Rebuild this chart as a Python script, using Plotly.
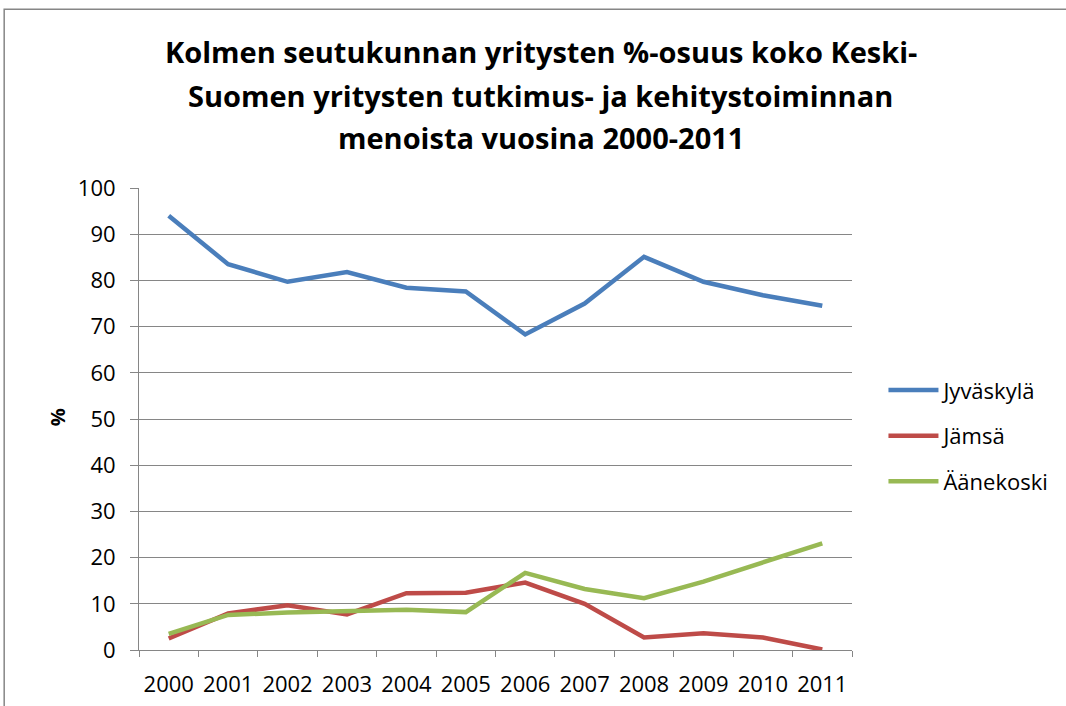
# coding: utf-8

# https://plotly.com/python
import plotly.graph_objects as go

# Data
years = ['2000', '2001', '2002', '2003', '2004', '2005',
         '2006', '2007', '2008', '2009', '2010', '2011']
jyvaskyla = [94.0, 83.5, 79.7, 81.8, 78.4, 77.6, 68.3, 75.0, 85.1, 79.7, 76.8, 74.5]
jamsa = [2.5, 7.9, 9.7, 7.7, 12.3, 12.4, 14.6, 10.0, 2.7, 3.6, 2.7, 0.1]
aanekoski = [3.5, 7.6, 8.1, 8.5, 8.7, 8.2, 16.7, 13.2, 11.2, 14.8, 19.0, 23.1]

series_names = ['Jyväskylä', 'Jämsä', 'Äänekoski']
series_colors = ['#4A7EBB', '#BE4B48', '#98B954']

title_lines = ['Kolmen seutukunnan yritysten %-osuus koko Keski-',
               'Suomen yritysten tutkimus- ja kehitystoiminnan',
               'menoista vuosina 2000-2011']

font_family = 'Open Sans, Liberation Sans, sans-serif'
grid_color = '#868686'

# Page size
W, H = 1066, 706

# Plot area in page pixels
left, right, top, bottom = 138.5, 852.5, 188, 650.5


def px_to_paper_x(px):
    return (px - left) / (right - left)


def px_to_paper_y(py):
    return (bottom - py) / (bottom - top)


# Initialize plot
fig = go.Figure()

for i, (name, values) in enumerate(zip(series_names, [jyvaskyla, jamsa, aanekoski])):
    fig.add_trace(
        go.Scatter(
            x=years,
            y=values,
            mode='lines',
            name=name,
            legendgroup=name,
            line=dict(color=series_colors[i], width=4.5)))

# Title lines as separate annotations to get the line pitch right
annotations = []
for text, py in zip(title_lines, [51, 95, 137]):
    annotations.append(dict(
        text=text, xref='paper', yref='paper',
        x=px_to_paper_x(541), y=px_to_paper_y(py),
        xanchor='center', yanchor='middle', showarrow=False,
        font=dict(family=font_family, size=29, color='black', weight='bold')))

# Y axis title
annotations.append(dict(
    text='%', xref='paper', yref='paper',
    x=px_to_paper_x(57), y=px_to_paper_y(418),
    xanchor='center', yanchor='middle', showarrow=False, textangle=-90,
    font=dict(family=font_family, size=20, color='black', weight='bold')))

# Outer chart frame
shapes = [dict(
    type='rect', xref='paper', yref='paper',
    x0=px_to_paper_x(3.5), x1=px_to_paper_x(1075),
    y0=px_to_paper_y(720), y1=px_to_paper_y(9),
    line=dict(color='#868686', width=1.5), fillcolor='rgba(0,0,0,0)',
    layer='below')]

fig.update_layout(
    width=W,
    height=H,
    margin=dict(l=left, r=W - right, t=top, b=H - bottom, autoexpand=False),
    paper_bgcolor='white',
    plot_bgcolor='white',
    font=dict(family=font_family, size=20, color='black'),
    showlegend=True,
    legend=dict(
        x=px_to_paper_x(884), y=px_to_paper_y(436),
        xanchor='left', yanchor='middle',
        traceorder='grouped', tracegroupgap=14,
        itemwidth=50,
        font=dict(family=font_family, size=22, color='black'),
        bgcolor='rgba(0,0,0,0)'),
    annotations=annotations,
    shapes=shapes,
)

fig.update_xaxes(
    type='category',
    range=[-0.5, 11.5],
    showline=True, linecolor=grid_color, linewidth=1,
    showgrid=False,
    ticks='outside', tickson='boundaries', ticklen=6, tickcolor=grid_color,
    tickangle=0, automargin=False, ticklabelstandoff=15,
    tickfont=dict(family=font_family, size=22, color='black'),
)
fig.update_yaxes(
    range=[0, 100],
    dtick=10,
    showline=True, linecolor=grid_color, linewidth=1,
    showgrid=True, gridcolor=grid_color, gridwidth=1,
    zeroline=False,
    ticks='outside', ticklen=8, tickcolor=grid_color,
    automargin=False, ticklabelstandoff=10,
    tickfont=dict(family=font_family, size=22, color='black'),
)

# Drop the default body margin so the figure fills the window exactly
fig.write_html('out.html', config={'displayModeBar': False},
               post_script="document.body.style.margin = '0';")
